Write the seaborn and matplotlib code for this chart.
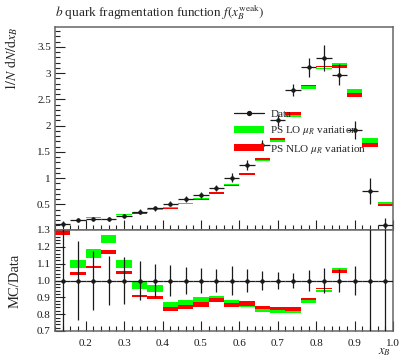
import numpy as np
import pandas as pd
import seaborn as sns
import matplotlib
matplotlib.use("Agg")
import matplotlib.pyplot as plt
from matplotlib.lines import Line2D
from matplotlib.patches import Patch
from matplotlib.ticker import MultipleLocator, FixedLocator, FormatStrFormatter

# bin centres (bin width 0.04)
x_center = [0.14, 0.18, 0.22, 0.26, 0.30, 0.34, 0.38, 0.42, 0.46, 0.50, 0.54,
            0.58, 0.62, 0.66, 0.70, 0.74, 0.78, 0.82, 0.86, 0.90, 0.94, 0.98]
data_val = [0.124, 0.20, 0.214, 0.22, 0.28, 0.36, 0.42, 0.51, 0.60, 0.68, 0.81,
            1.01, 1.25, 1.63, 2.10, 2.68, 3.11, 3.29, 2.97, 1.92, 0.76, 0.105]
# relative data uncertainty (as seen in the MC/Data panel)
data_relerr = [0.40, 0.235, 0.175, 0.145, 0.138, 0.118, 0.10, 0.095, 0.082, 0.075, 0.071,
               0.085, 0.07, 0.055, 0.048, 0.045, 0.06, 0.075, 0.068, 0.087, 0.33, 1.3]

# MC/Data bands
lo_min = [1.30, 1.072, 1.132, 1.222, 1.076, 0.952, 0.932, 0.836, 0.847, 0.87, 0.89,
          0.866, 0.84, 0.814, 0.808, 0.808, 0.865, 0.934, 1.058, 1.365, 2.20, 4.81]
lo_max = [1.34, 1.122, 1.19, 1.272, 1.122, 0.996, 0.972, 0.872, 0.886, 0.90, 0.91,
          0.884, 0.856, 0.835, 0.828, 0.828, 0.884, 0.944, 1.074, 1.404, 2.32, 5.24]
nlo_min = [1.27, 1.03, 1.072, 1.16, 1.04, 0.90, 0.89, 0.82, 0.829, 0.844, 0.87,
           0.844, 0.848, 0.828, 0.825, 0.82, 0.884, 0.948, 1.044, 1.328, 2.09, 4.48]
nlo_max = [1.30, 1.05, 1.086, 1.18, 1.056, 0.916, 0.906, 0.842, 0.853, 0.87, 0.895,
           0.868, 0.878, 0.848, 0.84, 0.84, 0.895, 0.954, 1.064, 1.365, 2.20, 4.81]

bin_w = 0.04
green = '#00ff00'
red = '#ff0000'

df = pd.DataFrame({'x': x_center, 'y': data_val, 'rel': data_relerr,
                   'lo_min': lo_min, 'lo_max': lo_max,
                   'nlo_min': nlo_min, 'nlo_max': nlo_max})
df['err'] = df['rel'] * df['y']
df['one'] = 1.0

sns.set_theme(style="ticks")
plt.rcParams['font.family'] = ['Liberation Serif', 'DejaVu Serif']
plt.rcParams['mathtext.fontset'] = 'stix'

W, H = 401, 360
fig = plt.figure(figsize=(W / 100, H / 100), dpi=100)
ax1 = fig.add_axes([55 / W, 130 / H, 338 / W, 203 / H])
ax2 = fig.add_axes([55 / W, 29 / H, 338 / W, 101 / H])

# upper panel
ax1.bar(df['x'], (df['lo_max'] - df['lo_min']) * df['y'], bottom=df['lo_min'] * df['y'],
        width=bin_w, color=green, linewidth=0, zorder=2)
ax1.bar(df['x'], (df['nlo_max'] - df['nlo_min']) * df['y'], bottom=df['nlo_min'] * df['y'],
        width=bin_w, color=red, linewidth=0, zorder=2)
ax1.errorbar(df['x'], df['y'], yerr=df['err'], xerr=bin_w / 2, fmt='none',
             ecolor='k', elinewidth=0.9, zorder=3)
sns.scatterplot(data=df, x='x', y='y', ax=ax1, color='k', s=8, edgecolor='k',
                linewidth=0.3, zorder=4, legend=False)

# ratio panel
ax2.bar(df['x'], df['lo_max'] - df['lo_min'], bottom=df['lo_min'],
        width=bin_w, color=green, linewidth=0, zorder=2)
ax2.bar(df['x'], df['nlo_max'] - df['nlo_min'], bottom=df['nlo_min'],
        width=bin_w, color=red, linewidth=0, zorder=2)
ax2.errorbar(df['x'], df['one'], yerr=df['rel'], xerr=bin_w / 2, fmt='none',
             ecolor='k', elinewidth=0.9, zorder=3)
sns.scatterplot(data=df, x='x', y='one', ax=ax2, color='k', s=8, edgecolor='k',
                linewidth=0.3, zorder=4, legend=False)

for ax in (ax1, ax2):
    ax.set_xlim(0.12, 1.0)
    ax.set_xlabel('')
    ax.set_ylabel('')
    ax.xaxis.set_major_locator(MultipleLocator(0.1))
    ax.xaxis.set_minor_locator(MultipleLocator(0.02))
    ax.tick_params(which='both', direction='in', colors='#222222', width=0.8,
                   labelsize=8, labelcolor='k', top=False, right=False)
    ax.tick_params(which='major', length=7)
    ax.tick_params(which='minor', length=3.5)
    for s in ax.spines.values():
        s.set_color('#666666')
        s.set_linewidth(1.1)

ax1.set_ylim(0.01, 3.88)
ax1.yaxis.set_major_locator(FixedLocator([0.5, 1, 1.5, 2, 2.5, 3, 3.5]))
ax1.yaxis.set_minor_locator(MultipleLocator(0.1))
ax1.yaxis.set_major_formatter(FormatStrFormatter('%g'))
ax1.tick_params(axis='x', labelbottom=False)
ax1.tick_params(axis='y', pad=3)

ax2.set_ylim(0.7, 1.3)
ax2.yaxis.set_major_locator(MultipleLocator(0.1))
ax2.yaxis.set_minor_locator(MultipleLocator(0.02))
ax2.yaxis.set_major_formatter(FormatStrFormatter('%.1f'))
ax2.xaxis.set_major_formatter(FormatStrFormatter('%.1f'))
ax2.tick_params(axis='y', pad=3)
ax2.tick_params(axis='x', pad=6)

handles = [Line2D([0], [0], color='k', lw=0.9, marker='o', markersize=2.8),
           Patch(facecolor=green, edgecolor='none'),
           Patch(facecolor=red, edgecolor='none')]
labels = ['Data', r'PS LO $\mu_R$ variation', r'PS NLO $\mu_R$ variation']
ax1.legend(handles, labels, loc='upper left', bbox_to_anchor=(0.53, 0.595),
           frameon=False, fontsize=8, borderpad=0, borderaxespad=0,
           handlelength=2.7, handleheight=0.6, handletextpad=0.55, labelspacing=0.5)

fig.text(55 / W, 1 - 13 / H, r'$b$ quark fragmentation function $f(x_B^{\rm weak})$',
         ha='left', va='center', fontsize=9.5)
fig.text(12 / W, 1 - 27 / H, r'$1/N\ \mathrm{d}N/\mathrm{d}x_B$', rotation=90,
         ha='center', va='top', fontsize=10)
fig.text(15 / W, 1 - 281 / H, 'MC/Data', rotation=90, ha='center', va='center', fontsize=10.5)
fig.text(385 / W, 1 - 352 / H, r'$x_B$', ha='center', va='center', fontsize=9)

fig.savefig('out.png', dpi=100)
print('finish!')
